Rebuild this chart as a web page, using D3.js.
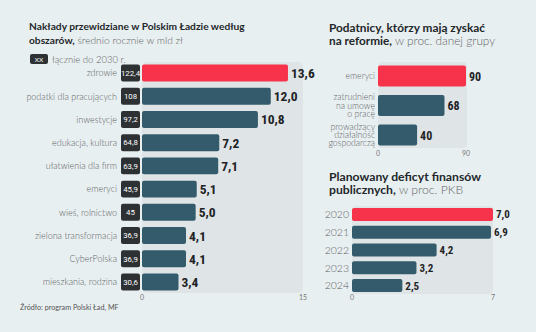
<!DOCTYPE html>
<html>
<head>
<meta charset="utf-8">
<script src="https://cdn.jsdelivr.net/npm/d3@7"></script>
<style>
  body { margin: 0; background: #e8eff1; }
  svg { display: block; font-family: Lato, Roboto, "Noto Sans", sans-serif; }
  .cat { fill: #5f6466; font-size: 9px; font-weight: 300; }
  .val { fill: #1f2326; font-family: "Liberation Sans Narrow", "Roboto Condensed", Roboto, sans-serif; font-weight: bold; }
  .tick { fill: #777; font-size: 7px; }
  .ttl { fill: #23272a; font-weight: bold; }
  .sub { fill: #666; font-weight: 300; }
</style>
</head>
<body>
<div id="chart"></div>
<script>
// nakłady (lewy wykres)
var areas = ["zdrowie", "podatki dla pracujących", "inwestycje", "edukacja, kultura", "ułatwienia dla firm",
  "emeryci", "wieś, rolnictwo", "zielona transformacja", "CyberPolska", "mieszkania, rodzina"];
var annual = [13.6, 12.0, 10.8, 7.2, 7.1, 5.1, 5.0, 4.1, 4.1, 3.4];
var totals = ["122,4", "108", "97,2", "64,8", "63,9", "45,9", "45", "36,9", "36,9", "30,6"];
var annualTicks = [0, 15];

// podatnicy (prawy górny)
var groups = [["emeryci"], ["zatrudnieni", "na umowę", "o pracę"], ["prowadzący", "działalność", "gospodarczą"]];
var gains = [90, 68, 40];
var gainTicks = [0, 90];

// deficyt (prawy dolny)
var years = ["2020", "2021", "2022", "2023", "2024"];
var deficit = [7.0, 6.9, 4.2, 3.2, 2.5];
var deficitTicks = [0, 7];

var width = 536, height = 332;
var red = "#f6334a", teal = "#345b6c", panel = "#dfe5e7";

var svg = d3.select("#chart").append("svg")
  .attr("width", width)
  .attr("height", height);

var comma = function(v) { return d3.format(".1f")(v).replace(".", ","); };

function title(x, y, gap, size, bold, line2bold, line2rest) {
  var t = svg.append("text").attr("class", "ttl").attr("x", x).attr("y", y).style("font-size", size + "px");
  t.append("tspan").text(bold);
  var t2 = svg.append("text").attr("class", "ttl").attr("x", x).attr("y", y + gap).style("font-size", size + "px");
  t2.append("tspan").text(line2bold);
  t2.append("tspan").attr("class", "sub").text(" " + line2rest);
}

function ticks(xScale, vals, y) {
  svg.append("g").selectAll("text")
    .data(vals).enter().append("text")
    .attr("class", "tick")
    .attr("x", function(d) { return xScale(d); })
    .attr("y", y)
    .attr("text-anchor", "middle")
    .text(function(d) { return d; });
}

//---- lewy wykres
title(29, 30, 14, 10.2, "Nakłady przewidziane w Polskim Ładzie według", "obszarów,", "średnio rocznie w mld zł");

svg.append("rect").attr("x", 30).attr("y", 54).attr("width", 18).attr("height", 10)
  .attr("rx", 2).attr("fill", "#2d3134");
svg.append("text").attr("x", 39).attr("y", 61.5).attr("text-anchor", "middle")
  .attr("fill", "#fff").attr("font-size", 6.5).text("XX");
svg.append("text").attr("class", "cat").style("font-size", "9.5px").attr("x", 52).attr("y", 62.5).text("łącznie do 2030 r.");

var x1 = d3.scaleLinear().domain([0, 15]).range([142, 303]);
var y1 = d3.scaleBand().domain(areas).range([61.4, 293.6]).paddingInner(0.27).paddingOuter(0.135);

svg.append("rect").attr("x", x1(0)).attr("y", 62).attr("width", x1(15) - x1(0)).attr("height", 231)
  .attr("rx", 5).attr("fill", panel);

var g1 = svg.append("g");
var row1 = g1.selectAll("g").data(areas).enter().append("g");

row1.append("text").attr("class", "cat")
  .attr("x", 117)
  .attr("y", function(d) { return y1(d) + y1.bandwidth() / 2 + 3.3; })
  .attr("text-anchor", "end")
  .text(function(d) { return d; });

row1.append("rect")
  .attr("x", 121)
  .attr("y", function(d) { return y1(d); })
  .attr("width", 19)
  .attr("height", y1.bandwidth())
  .attr("rx", 2)
  .attr("fill", "#2d3134");

row1.append("text")
  .attr("x", 130.5)
  .attr("y", function(d) { return y1(d) + y1.bandwidth() / 2 + 2.8; })
  .attr("text-anchor", "middle")
  .attr("fill", "#fff")
  .attr("font-family", "'Liberation Sans Narrow', Roboto, sans-serif")
  .attr("font-size", 7.8)
  .text(function(d, i) { return totals[i]; });

row1.append("rect")
  .attr("x", x1(0))
  .attr("y", function(d) { return y1(d); })
  .attr("width", function(d, i) { return x1(annual[i]) - x1(0); })
  .attr("height", y1.bandwidth())
  .attr("rx", 2)
  .attr("fill", function(d, i) { return i == 0 ? red : teal; });

row1.append("text").attr("class", "val")
  .attr("x", function(d, i) { return x1(annual[i]) + 3; })
  .attr("y", function(d) { return y1(d) + y1.bandwidth() / 2 + 5; })
  .attr("font-size", 13.5)
  .text(function(d, i) { return comma(annual[i]); });

ticks(x1, annualTicks, 300);

svg.append("text").attr("x", 20).attr("y", 310).attr("fill", "#555").attr("font-size", 7.2)
  .text("Źródło: program Polski Ład, MF");

//---- prawy górny
title(329, 32, 13, 11.8, "Podatnicy, którzy mają zyskać", "na reformie,", "w proc. danej grupy");

var x2 = d3.scaleLinear().domain([0, 90]).range([378, 466]);
var y2 = d3.scaleBand().domain(d3.range(groups.length)).range([61.25, 149.75]).paddingInner(0.29).paddingOuter(0.145);

svg.append("rect").attr("x", x2(0)).attr("y", 62).attr("width", x2(90) - x2(0) + 1).attr("height", 86)
  .attr("rx", 4).attr("fill", panel);

var row2 = svg.append("g").selectAll("g").data(groups).enter().append("g");

row2.append("text").attr("class", "cat")
  .attr("text-anchor", "end")
  .style("font-size", "8.7px")
  .each(function(d, i) {
    var cy = y2(i) + y2.bandwidth() / 2;
    var lh = 8.3;
    d3.select(this).selectAll("tspan").data(d).enter().append("tspan")
      .attr("x", 375)
      .attr("y", function(s, j) { return cy + 3 + (j - (d.length - 1) / 2) * lh; })
      .text(function(s) { return s; });
  });

row2.append("rect")
  .attr("x", x2(0))
  .attr("y", function(d, i) { return y2(i); })
  .attr("width", function(d, i) { return x2(gains[i]) - x2(0); })
  .attr("height", y2.bandwidth())
  .attr("rx", 2)
  .attr("fill", function(d, i) { return i == 0 ? red : teal; });

row2.append("text").attr("class", "val")
  .attr("x", function(d, i) { return x2(gains[i]) + 3; })
  .attr("y", function(d, i) { return y2(i) + y2.bandwidth() / 2 + 4.5; })
  .attr("font-size", 12)
  .text(function(d, i) { return gains[i]; });

ticks(x2, gainTicks, 156);

//---- prawy dolny
title(329, 181, 13, 12.2, "Planowany deficyt finansów", "publicznych,", "w proc. PKB");

var x3 = d3.scaleLinear().domain([0, 7]).range([352, 493]);
var y3 = d3.scaleBand().domain(years).range([205.6, 294.4]).paddingInner(0.27).paddingOuter(0.135);

svg.append("rect").attr("x", x3(0)).attr("y", 206).attr("width", x3(7) - x3(0)).attr("height", 88)
  .attr("rx", 4).attr("fill", panel);

var row3 = svg.append("g").selectAll("g").data(years).enter().append("g");

row3.append("text").attr("class", "cat")
  .attr("x", 349)
  .attr("y", function(d) { return y3(d) + y3.bandwidth() / 2 + 3.8; })
  .attr("text-anchor", "end")
  .style("font-size", "10.5px")
  .text(function(d) { return d; });

row3.append("rect")
  .attr("x", x3(0))
  .attr("y", function(d) { return y3(d); })
  .attr("width", function(d, i) { return x3(deficit[i]) - x3(0); })
  .attr("height", y3.bandwidth())
  .attr("rx", 2)
  .attr("fill", function(d, i) { return i == 0 ? red : teal; });

row3.append("text").attr("class", "val")
  .attr("x", function(d, i) { return x3(deficit[i]) + 3; })
  .attr("y", function(d) { return y3(d) + y3.bandwidth() / 2 + 4; })
  .attr("font-size", 11)
  .text(function(d, i) { return comma(deficit[i]); });

ticks(x3, deficitTicks, 300);
</script>
</body>
</html>
